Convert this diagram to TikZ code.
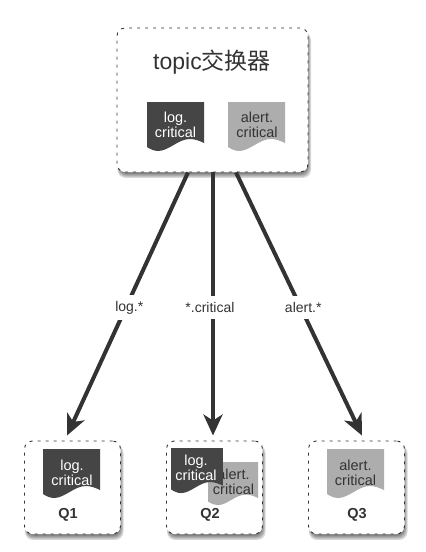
\documentclass[tikz,border=0pt]{standalone}
\usepackage{fontspec}
\setmainfont{Liberation Sans}
\newfontfamily\cjkfont{Noto Sans CJK SC}
\usetikzlibrary{arrows.meta,calc}
\definecolor{darkdoc}{gray}{0.27}
\definecolor{lightdoc}{gray}{0.68}
\definecolor{inkc}{gray}{0.2}
\newcommand{\docpath}[5]{% colour, x, y (left, top), xscale, yscale; base size 57x49
  \fill[#1,shift={(#2,#3)},xscale=#4,yscale=#5] (0,0) -- (57,0) -- (57,41)
    .. controls (53,39) and (48,37) .. (43,37)
    .. controls (31,37) and (22,49) .. (11,49)
    .. controls (7,49) and (3,47) .. (0,45) -- cycle;
}
\tikzset{
  x=1pt,y=-1pt,
  boxnode/.style={draw=inkc,line width=0.9pt,dash pattern=on 3pt off 5pt,rounded corners=8pt,fill=white,inner sep=0pt,minimum width=#1},
  boxshadow/.style={fill=black,fill opacity=0.15,draw=none,rounded corners=8pt},
  doclabel/.style={font=\fontsize{14.5}{15}\selectfont,align=center,inner sep=0pt,text width=57pt},
  darklabel/.style={doclabel,text=white},
  lightlabel/.style={doclabel,text=inkc},
  flow/.style={draw=inkc,line width=4pt,-{Stealth[length=21pt,width=19pt,inset=6pt]}},
  flowlabel/.style={fill=white,inner xsep=2pt,inner ysep=6pt,font=\fontsize{14}{15}\selectfont,text=inkc},
  qlabel/.style={font=\bfseries\fontsize{14.5}{16}\selectfont,text=inkc,inner sep=0pt},
}
\newcommand{\boxshadowat}[4]{%
  \foreach \d in {0,1,2,3}{\fill[boxshadow] (#1+2-\d*0.5,#2+4) rectangle (#3+\d,#4+2+\d*1.3);}
}
\begin{document}
\begin{tikzpicture}
\useasboundingbox[fill=white] (0,0) rectangle (426,552);
% shadows
\boxshadowat{117}{28}{308}{172}
\boxshadowat{24.5}{441}{120.5}{534}
\boxshadowat{166.5}{441}{262.5}{534}
\boxshadowat{308.5}{441}{404.5}{534}
% boxes
\node[boxnode=191pt,minimum height=144pt] (topic) at (212.5,100) {};
\node[boxnode=96pt,minimum height=93pt] (q1) at (72.5,487.5) {};
\node[boxnode=96pt,minimum height=93pt] (q2) at (214.5,487.5) {};
\node[boxnode=96pt,minimum height=93pt] (q3) at (356.5,487.5) {};
% title
\node[inner sep=0pt,text=inkc,font=\fontsize{23}{25}\selectfont] (title) at (212,62) {topic{\cjkfont 交换器}};
% top docs
\docpath{darkdoc}{147}{102}{1}{1}
\node[darklabel] (d1) at (175.5,125) {log.\\critical};
\docpath{lightdoc}{228}{102}{1}{1}
\node[lightlabel] (d2) at (257,125) {alert.\\critical};
% q1
\docpath{darkdoc}{43}{449}{1}{1}
\node[darklabel] (d3) at (72,473) {log.\\critical};
\node[qlabel] (t1) at (68,515) {Q1};
% q2
\docpath{lightdoc}{208}{462}{0.88}{0.88}
\node[lightlabel] (d4) at (233.5,481.5) {alert.\\critical};
\docpath{darkdoc}{171}{448}{0.91}{0.92}
\node[darklabel] (d5) at (196,468) {log.\\critical};
\node[qlabel] (t2) at (210,515) {Q2};
% q3
\docpath{lightdoc}{327}{449}{1}{1}
\node[lightlabel] (d6) at (355.5,472.5) {alert.\\critical};
\node[qlabel] (t3) at (357,515) {Q3};
% connectors
\coordinate (s1) at ($(topic.south)+(-24.5,0)$);
\coordinate (s2) at ($(topic.south)+(0.5,0)$);
\coordinate (s3) at ($(topic.south)+(23.5,0)$);
\coordinate (e1) at ($(q1.north)+(-5.5,-5)$);
\coordinate (e2) at ($(q2.north)+(-1.5,-5)$);
\coordinate (e3) at ($(q3.north)+(5.5,-5)$);
\draw[flow] (s1) -- (e1) node[flowlabel,pos=0.51,xshift=3pt,yshift=-1pt] (l1) {log.*};
\draw[flow] (s2) -- (e2) node[flowlabel,pos=0.51,xshift=-3pt,yshift=-1pt] (l2) {*.critical};
\draw[flow] (s3) -- (e3) node[flowlabel,pos=0.51,xshift=3pt,yshift=-1pt] (l3) {alert.*};
\end{tikzpicture}
\end{document}
